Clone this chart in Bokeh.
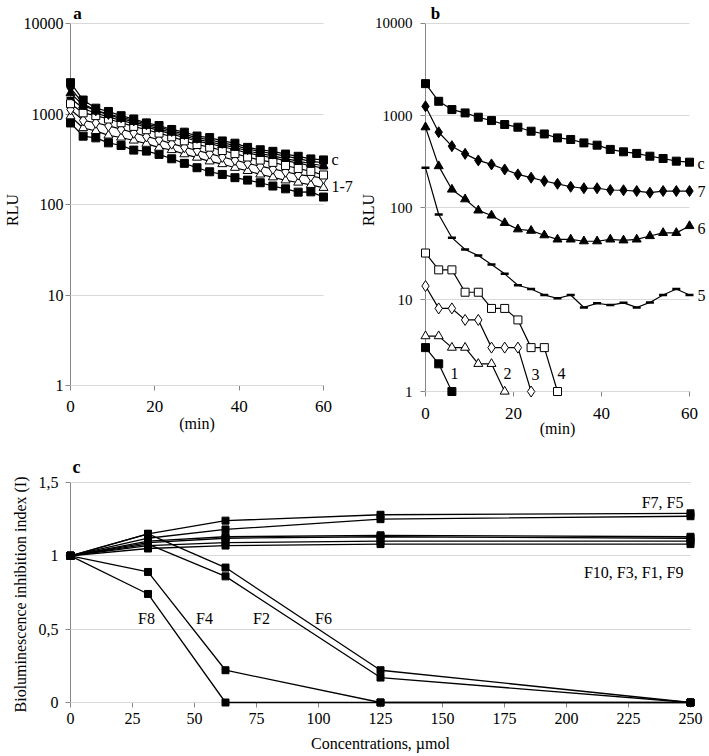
import math
from bokeh.plotting import figure
from bokeh.layouts import column, row
from bokeh.models import (Range1d, FixedTicker, Label, CustomJSTickFormatter,
                          LinearAxis, LogAxis)
from bokeh.embed import file_html
from bokeh.resources import INLINE

FONT = "Liberation Serif"

# ---------------- data ----------------
time_min = [0, 3, 6, 9, 12, 15, 18, 21, 24, 27, 30, 33, 36, 39, 42, 45, 48, 51, 54, 57, 60]

# panel a (RLU)
a_c = [2220, 1427, 1160, 1067, 958, 881, 798, 746, 675, 630, 571, 549, 504, 476, 428, 403, 387, 361, 341, 319, 311]
a_7 = [1950, 1300, 1100, 1000, 920, 850, 770, 720, 650, 600, 545, 520, 480, 450, 410, 385, 365, 342, 322, 300, 290]
a_6 = [1700, 1250, 1080, 980, 890, 820, 745, 690, 625, 575, 520, 495, 455, 428, 390, 365, 345, 322, 302, 282, 268]
a_5 = [1500, 1150, 1020, 930, 850, 780, 715, 660, 600, 550, 500, 470, 435, 405, 370, 348, 328, 305, 287, 268, 252]
a_4 = [1300, 1030, 960, 880, 800, 730, 670, 615, 560, 505, 460, 430, 395, 365, 335, 310, 292, 270, 250, 232, 212]
a_3 = [1120, 850, 800, 740, 680, 620, 565, 520, 470, 430, 395, 365, 335, 310, 285, 265, 248, 230, 214, 206, 195]
a_2 = [945, 700, 650, 580, 550, 510, 470, 425, 400, 360, 330, 300, 280, 255, 235, 215, 200, 185, 175, 165, 153]
a_1 = [796, 569, 545, 480, 449, 399, 389, 358, 320, 285, 255, 230, 215, 198, 186, 174, 160, 149, 137, 138, 121]

# panel b (RLU)
b_c = [2220, 1427, 1160, 1067, 958, 881, 798, 746, 675, 630, 571, 549, 504, 476, 428, 403, 387, 361, 341, 319, 311]
b_7 = [1259, 658, 464, 383, 325, 294, 259, 229, 211, 194, 181, 168, 162, 162, 155, 154, 151, 145, 151, 151, 151]
b_6 = [746, 282, 157, 123, 93, 82, 68, 58, 56, 50, 45, 45, 43, 43, 45, 44, 45, 49, 53, 53, 63]
b_5 = [270, 84, 47, 35, 30, 24, 19, 14.3, 13, 11.2, 10.3, 11.2, 8.2, 9.1, 8.7, 9.2, 8.2, 9.3, 11.2, 13, 11.2]
b_4_time = [0, 3, 6, 9, 12, 15, 18, 21, 24, 27, 30]
b_4 = [32, 21, 21, 12, 12, 8, 8, 6, 3, 3, 1]
b_3_time = [0, 3, 6, 9, 12, 15, 18, 21, 24]
b_3 = [14, 8, 8, 6, 6, 3, 3, 3, 1]
b_2_time = [0, 3, 6, 9, 12, 15, 18]
b_2 = [4, 4, 3, 3, 2, 2, 1]
b_1_time = [0, 3, 6]
b_1 = [3, 2, 1]

ab_yticks = [1, 10, 100, 1000, 10000]
ab_xticks = [0, 20, 40, 60]

# panel c (bioluminescence inhibition index)
conc = [0, 31.25, 62.5, 125, 250]
c_xticks = [0, 25, 50, 75, 100, 125, 150, 175, 200, 225, 250]
c_yticks = [0, 0.5, 1, 1.5]
F7 = [1, 1.15, 1.24, 1.28, 1.29]
F5 = [1, 1.12, 1.18, 1.25, 1.27]
F10 = [1, 1.10, 1.13, 1.14, 1.13]
F3 = [1, 1.09, 1.12, 1.13, 1.12]
F1 = [1, 1.07, 1.09, 1.10, 1.10]
F9 = [1, 1.05, 1.07, 1.08, 1.08]
F6 = [1, 1.15, 0.92, 0.22, 0]
F2 = [1, 1.08, 0.86, 0.17, 0]
F4 = [1, 0.89, 0.22, 0, 0]
F8 = [1, 0.74, 0, 0, 0]

AXIS_COL = "#868686"
GRID_COL = "#d9d9d9"
ROW_H = 448


def make_fig(fl, ft, fw, fh, xa, xb, xa_px, xb_px, pl, pr,
             ya, yb, ya_px, yb_px, pb, pt, log_y):
    sx = (xb_px - xa_px) / (xb - xa)
    x_start = xa - pl / sx
    x_end = xb + pr / sx
    frame_l = xa_px - pl
    frame_r = xb_px + pr
    if log_y:
        la, lb = math.log10(ya), math.log10(yb)
    else:
        la, lb = ya, yb
    sy = (ya_px - yb_px) / (lb - la)
    y0 = la - pb / sy
    y1 = lb + pt / sy
    frame_b = ya_px + pb
    frame_t = yb_px - pt
    yr = Range1d(10 ** y0, 10 ** y1) if log_y else Range1d(y0, y1)
    p = figure(width=fw, height=fh, x_range=Range1d(x_start, x_end), y_range=yr,
               y_axis_type="log" if log_y else "linear",
               output_backend="svg", toolbar_location=None, title=None,
               min_border_left=int(frame_l - fl), min_border_right=int(fl + fw - frame_r),
               min_border_top=int(frame_t - ft), min_border_bottom=int(ft + fh - frame_b))
    p.outline_line_color = None
    p.background_fill_color = "white"
    p.border_fill_color = "white"
    return p


def style_main_axes(p, xticks, yticks, xb, yb, fs_x, fs_y, sx_off, sy_off, yfmt_js,
                    xlabel, ylabel, xl_stand, yl_stand, fs_lab):
    xt = FixedTicker(ticks=xticks)
    yt = FixedTicker(ticks=yticks)
    p.xaxis.ticker = xt
    p.yaxis.ticker = yt
    p.xgrid.visible = False
    p.ygrid.ticker = yt
    p.ygrid.grid_line_color = GRID_COL
    p.ygrid.grid_line_width = 1
    try:
        p.ygrid.cross_bounds = xb
    except Exception:
        pass
    p.xaxis.bounds = xb
    p.yaxis.bounds = yb
    for ax in (p.xaxis[0], p.yaxis[0]):
        ax.axis_line_color = None
        ax.major_tick_line_color = None
        ax.major_tick_out = 0
        ax.major_tick_in = 0
        ax.minor_tick_line_color = None
        ax.major_label_text_font = FONT
        ax.major_label_text_color = "black"
        ax.axis_label_text_font = FONT
        ax.axis_label_text_font_style = "normal"
        ax.axis_label_text_font_size = fs_lab
        ax.axis_label_text_color = "black"
    p.xaxis.major_label_text_font_size = fs_x
    p.yaxis.major_label_text_font_size = fs_y
    p.xaxis.major_label_standoff = sx_off
    p.yaxis.major_label_standoff = sy_off
    p.xaxis.formatter = CustomJSTickFormatter(code="return tick.toFixed(0);")
    p.yaxis.formatter = CustomJSTickFormatter(code=yfmt_js)
    p.xaxis.axis_label = xlabel
    p.yaxis.axis_label = ylabel
    p.xaxis.axis_label_standoff = xl_stand
    p.yaxis.axis_label_standoff = yl_stand


def add_line_axes(p, xticks, yticks, xb, yb, y_at, x_at, log_y):
    # visible axis lines placed at the data origin, with outward tick marks
    ycls = LogAxis if log_y else LinearAxis
    yline = ycls(ticker=FixedTicker(ticks=yticks), fixed_location=x_at, bounds=yb)
    xline = LinearAxis(ticker=FixedTicker(ticks=xticks), fixed_location=y_at, bounds=xb)
    for ax in (yline, xline):
        ax.level = "underlay"
        ax.axis_line_color = AXIS_COL
        ax.axis_line_width = 1
        ax.major_tick_line_color = AXIS_COL
        ax.major_tick_in = 5
        ax.major_tick_out = 0
        ax.minor_tick_line_color = None
        ax.major_label_standoff = 0
        ax.major_label_text_font_size = "0px"
        ax.formatter = CustomJSTickFormatter(code="return '';")
    p.add_layout(yline, "right")
    p.add_layout(xline, "above")


def add_text_axis(p, side, ticks, labels, log, fs, bold, standoff):
    cls = LogAxis if log else LinearAxis
    ax = cls(ticker=FixedTicker(ticks=ticks),
             formatter=CustomJSTickFormatter(
                 args=dict(t=ticks, l=labels),
                 code="let b = 0; for (let i = 0; i < t.length; i++) "
                      "{ if (Math.abs(t[i] - tick) < Math.abs(t[b] - tick)) b = i; } return l[b];"))
    ax.axis_line_color = None
    ax.major_tick_line_color = None
    ax.major_tick_in = 0
    ax.major_tick_out = 0
    ax.minor_tick_line_color = None
    ax.major_label_standoff = standoff
    ax.major_label_text_font = FONT
    ax.major_label_text_font_size = fs
    ax.major_label_text_color = "black"
    ax.major_label_text_font_style = "bold" if bold else "normal"
    p.add_layout(ax, side)


def lab(p, x, y, text, size="16px", align="left", baseline="middle"):
    p.add_layout(Label(x=x, y=y, text=text, text_font=FONT, text_font_size=size,
                       text_align=align, text_baseline=baseline, text_color="black"))


def series(p, x, y, marker, fill, size, lw=1.2):
    p.line(x, y, line_color="black", line_width=lw)
    if marker == "dash":
        p.scatter(x, y, marker="dash", size=size, line_color="black", line_width=2.5)
    else:
        p.scatter(x, y, marker=marker, size=size, fill_color=fill, line_color="black", line_width=1)


# ---------------- panel a ----------------
# both top panels share frame top (21) and bottom (397) because the row aligns them
A_X0, A_X1, A_Y1, A_Y4 = 70, 323, 385, 22
pa = make_fig(0, 0, 355, ROW_H, 0, 60, A_X0, A_X1, 6, 6, 1, 10000, A_Y1, A_Y4, 12, 1, True)
style_main_axes(pa, ab_xticks, ab_yticks, (0, 60), (1, 10000), "17px", "16px", 3, 1,
                "return tick.toFixed(0);", "(min)", "RLU", 0, 0, "16px")
add_line_axes(pa, ab_xticks, ab_yticks, (0, 60), (1, 10000), 1, 0, True)
for ys, mk, fc, sz in [(a_1, "square", "black", 8), (a_2, "triangle", "white", 9),
                       (a_3, "diamond", "white", 11), (a_4, "square", "white", 8),
                       (a_5, "dash", "black", 8), (a_6, "triangle", "black", 9),
                       (a_7, "diamond", "black", 11), (a_c, "square", "black", 8)]:
    series(pa, time_min, ys, mk, fc, sz)


def ax_a(px):
    return (px - A_X0) / ((A_X1 - A_X0) / 60)


def ay_a(py):
    return 10 ** ((A_Y1 - py) / ((A_Y1 - A_Y4) / 4))


add_text_axis(pa, "right", [ay_a(158), ay_a(185)], ["c", "1-7"], True, "16px", False, 2)
add_text_axis(pa, "above", [ax_a(77)], ["a"], False, "17px", True, 0)

# ---------------- panel b ----------------
B_X0, B_X1, B_Y1, B_Y4 = 425, 689, 391, 22
pb = make_fig(355, 0, 354, ROW_H, 0, 60, B_X0, B_X1, 6, 6, 1, 10000, B_Y1, B_Y4, 6, 1, True)
style_main_axes(pb, ab_xticks, ab_yticks, (0, 60), (1, 10000), "17px", "15px", 10, 7,
                "return tick.toFixed(0);", "(min)", "RLU", -2, -5, "16px")
add_line_axes(pb, ab_xticks, ab_yticks, (0, 60), (1, 10000), 1, 0, True)
series(pb, b_1_time, b_1, "square", "black", 8)
series(pb, b_2_time, b_2, "triangle", "white", 9)
series(pb, b_3_time, b_3, "diamond", "white", 11)
series(pb, b_4_time, b_4, "square", "white", 8)
series(pb, time_min, b_5, "dash", "black", 8)
series(pb, time_min, b_6, "triangle", "black", 9)
series(pb, time_min, b_7, "diamond", "black", 11)
series(pb, time_min, b_c, "square", "black", 8)


def ax_b(px):
    return (px - B_X0) / ((B_X1 - B_X0) / 60)


def ay_b(py):
    return 10 ** ((B_Y1 - py) / ((B_Y1 - B_Y4) / 4))


add_text_axis(pb, "right", [ay_b(162), ay_b(190), ay_b(228), ay_b(295)],
              ["c", "7", "6", "5"], True, "16px", False, 2)
add_text_axis(pb, "above", [ax_b(435)], ["b"], False, "17px", True, 0)
lab(pb, ax_b(450), ay_b(373), "1")
lab(pb, ax_b(503), ay_b(373), "2")
lab(pb, ax_b(531), ay_b(374), "3")
lab(pb, ax_b(557), ay_b(373), "4")

# ---------------- panel c ----------------
C_X0, C_X1, C_Y0, C_Y15 = 70, 690, 702, 482
pc = make_fig(0, ROW_H, 709, 756 - ROW_H, 0, 250, C_X0, C_X1, 6, 6, 0, 1.5, C_Y0, C_Y15, 6, 2, False)
style_main_axes(pc, c_xticks, c_yticks, (0, 250), (0, 1.5), "16px", "16px", 4, 6,
                "return tick.toString().replace('.', ',');",
                "Concentrations, µmol", "Bioluminescence inhibition index (I)", 8, 7, "16px")
add_line_axes(pc, c_xticks, c_yticks, (0, 250), (0, 1.5), 0, 0, False)
for ys in [F8, F4, F2, F6, F9, F1, F3, F10, F5, F7]:
    series(pc, conc, ys, "square", "black", 7, lw=1.3)


def cx(px):
    return (px - C_X0) / ((C_X1 - C_X0) / 250)


def cy(py):
    return (C_Y0 - py) / ((C_Y0 - C_Y15) / 1.5)


add_text_axis(pc, "above", [cx(76)], ["c"], False, "18px", True, 4)
lab(pc, cx(683), cy(502), "F7, F5", align="right")
lab(pc, cx(683), cy(572), "F10, F3, F1, F9", align="right")
lab(pc, cx(146), cy(618), "F8", align="center")
lab(pc, cx(204), cy(618), "F4", align="center")
lab(pc, cx(261), cy(618), "F2", align="center")
lab(pc, cx(323), cy(618), "F6", align="center")

layout = column(row(pa, pb), pc)
open("out.html", "w").write(file_html(layout, INLINE))
